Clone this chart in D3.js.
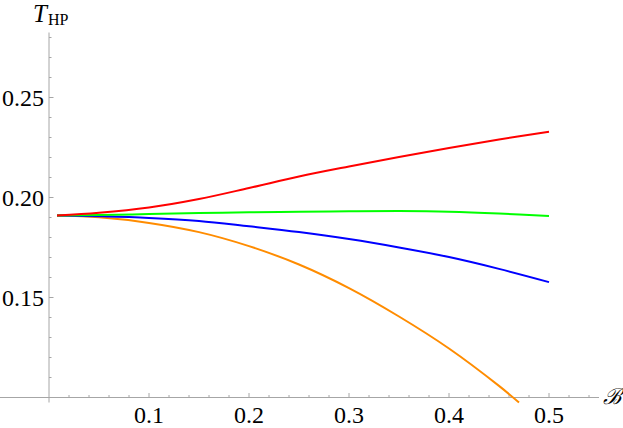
<!DOCTYPE html>
<html><head><meta charset="utf-8">
<script src="https://cdn.jsdelivr.net/npm/d3@7"></script>
<style>body{margin:0;background:#fff}svg{display:block}
.serif{font-family:"Liberation Serif";font-weight:400}</style>
</head><body>
<script>
const bValues   = [0.008, 0.05, 0.1, 0.15, 0.2, 0.25, 0.3, 0.35, 0.4, 0.45, 0.5];
const redT      = [0.1910, 0.19235, 0.1950, 0.19925, 0.20475, 0.2105, 0.2155, 0.22025, 0.22475, 0.2290, 0.23285];
const greenT    = [0.1910, 0.1912, 0.1917, 0.1922, 0.1926, 0.1929, 0.1931, 0.1932, 0.1929, 0.1920, 0.1907];
const blueT     = [0.1910, 0.1906, 0.1898, 0.1883, 0.1856, 0.1827, 0.1792, 0.1750, 0.1702, 0.1643, 0.1577];
const orangeB   = [0.008, 0.05, 0.1, 0.15, 0.2, 0.25, 0.3, 0.35, 0.4, 0.45, 0.47];
const orangeT   = [0.1910, 0.1901, 0.1873, 0.1827, 0.1757, 0.1665, 0.1547, 0.1405, 0.1245, 0.1058, 0.0975];
const xTicks    = [0.1, 0.2, 0.3, 0.4, 0.5];
const xTickLabels = ["0.1", "0.2", "0.3", "0.4", "0.5"];
const yTicks    = [0.15, 0.20, 0.25];
const yTickLabels = ["0.15", "0.20", "0.25"];

const W = 623, H = 428;
const svg = d3.select("body").append("svg").attr("width", W).attr("height", H);
const x = d3.scaleLinear().domain([0, 0.55]).range([49, 599]);
const y = d3.scaleLinear().domain([0.10, 0.28]).range([397.5, 37.5]);
const axisCol = "#a6a6a6";

svg.append("line").attr("x1", 0).attr("x2", x(0.55)).attr("y1", y(0.10)).attr("y2", y(0.10))
  .attr("stroke", axisCol).attr("stroke-width", 1);
svg.append("line").attr("x1", x(0)).attr("x2", x(0)).attr("y1", y(0.2825)).attr("y2", y(0.10) + 5)
  .attr("stroke", axisCol).attr("stroke-width", 1);

const xMinor = d3.range(1, 28).map(i => i * 0.02).filter(v => !xTicks.some(t => Math.abs(t - v) < 1e-9));
svg.selectAll(".xmin").data(xMinor).enter().append("line")
  .attr("x1", d => x(d)).attr("x2", d => x(d)).attr("y1", y(0.10)).attr("y2", y(0.10) - 2.5)
  .attr("stroke", axisCol);
svg.selectAll(".xmaj").data(xTicks).enter().append("line")
  .attr("x1", d => x(d)).attr("x2", d => x(d)).attr("y1", y(0.10)).attr("y2", y(0.10) - 4.5)
  .attr("stroke", axisCol);
svg.selectAll(".xlab").data(xTicks).enter().append("text").attr("class", "serif")
  .attr("x", d => x(d)).attr("y", 423).attr("text-anchor", "middle")
  .style("font-size", "24px").attr("fill", "#000")
  .text((d, i) => xTickLabels[i]);

const yMinor = d3.range(11, 29).map(i => i * 0.01).filter(v => !yTicks.some(t => Math.abs(t - v) < 1e-9));
svg.selectAll(".ymin").data(yMinor).enter().append("line")
  .attr("x1", x(0)).attr("x2", x(0) + 2.5).attr("y1", d => y(d)).attr("y2", d => y(d))
  .attr("stroke", axisCol);
svg.selectAll(".ymaj").data(yTicks).enter().append("line")
  .attr("x1", x(0)).attr("x2", x(0) + 4.5).attr("y1", d => y(d)).attr("y2", d => y(d))
  .attr("stroke", axisCol);
svg.selectAll(".ylab").data(yTicks).enter().append("text").attr("class", "serif")
  .attr("x", 44).attr("y", d => y(d) + 8.5).attr("text-anchor", "end")
  .style("font-size", "24px").attr("fill", "#000")
  .text((d, i) => yTickLabels[i]);

const tl = svg.append("text").attr("class", "serif").attr("x", 33).attr("y", 22).attr("fill", "#000");
tl.append("tspan").style("font-size", "25px").style("font-style", "italic").text("T");
tl.append("tspan").style("font-size", "16px").attr("dx", 1).attr("dy", 3).text("HP");
svg.append("text").attr("class", "serif").attr("x", 603).attr("y", 404)
  .style("font-style", "italic").style("font-size", "22px").attr("fill", "#000").text("ℬ");

const line = d3.line().x(d => x(d[0])).y(d => y(d[1])).curve(d3.curveCatmullRom.alpha(0.5));
function draw(bs, ts, color) {
  svg.append("path").datum(bs.map((b, i) => [b, ts[i]]))
    .attr("d", line).attr("fill", "none").attr("stroke", color).attr("stroke-width", 2);
}
draw(orangeB, orangeT, "#ff8c00");
draw(bValues, blueT, "#0000ff");
draw(bValues, greenT, "#00ff00");
draw(bValues, redT, "#ff0000");
</script>
</body></html>
